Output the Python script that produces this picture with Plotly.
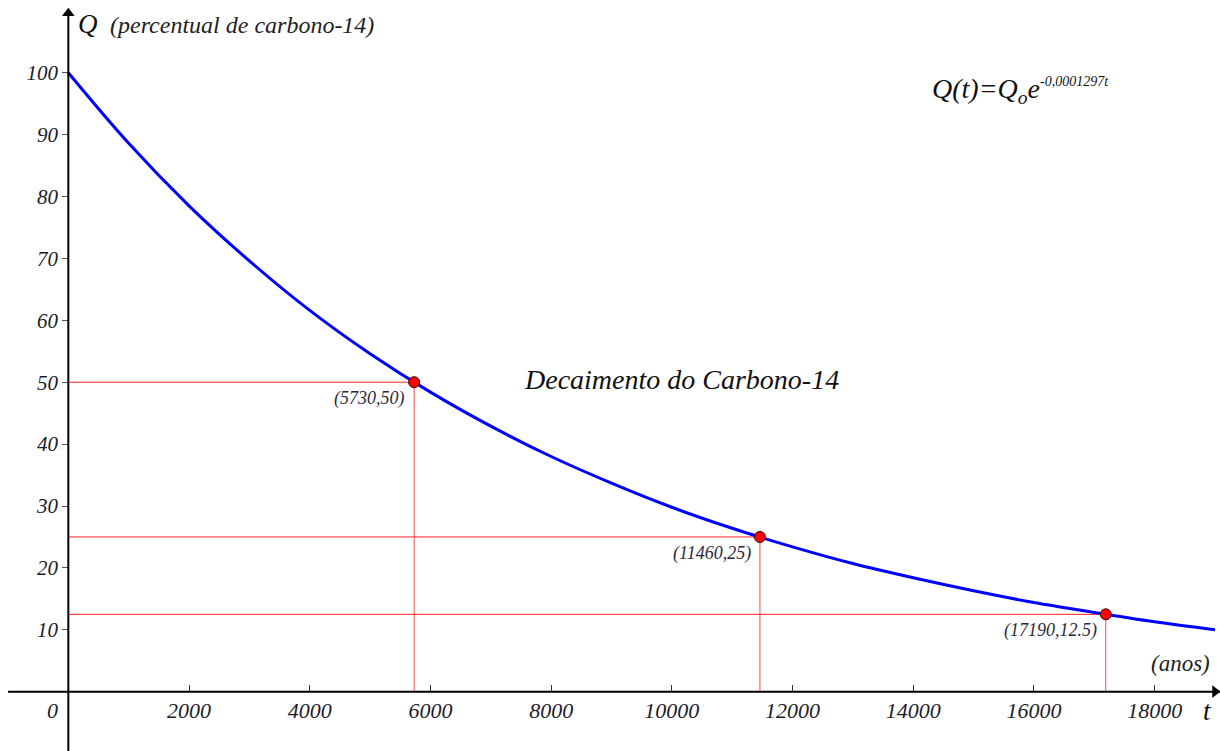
import plotly.graph_objects as go

# Data
t_years = [0, 1000, 2000, 3000, 4000, 5000, 6000, 7000, 8000, 9000, 10000,
           11000, 12000, 13000, 14000, 15000, 16000, 17000, 18000, 19000]
q_percent = [100, 88.6, 78.5, 69.6, 61.6, 54.6, 48.4, 42.9, 38.0, 33.7, 29.8,
             26.4, 23.4, 20.7, 18.4, 16.3, 14.4, 12.8, 11.3, 10.0]
half_life_t = [5730, 11460, 17190]
half_life_q = [50, 25, 12.5]
half_life_labels = ["(5730,50)", "(11460,25)", "(17190,12.5)"]
x_ticks = [2000, 4000, 6000, 8000, 10000, 12000, 14000, 16000, 18000]
x_tick_text = ["2000", "4000", "6000", "8000", "10000", "12000", "14000", "16000", "18000"]
y_ticks = [10, 20, 30, 40, 50, 60, 70, 80, 90, 100]

X_RANGE = [-1132, 19083]
Y_RANGE = [-9.58, 111.75]
FONT = "Liberation Serif"
TXT = "#1c1c2a"

fig = go.Figure()

# axis lines
shapes = [
    dict(type="line", xref="x", yref="y", x0=-999, x1=X_RANGE[1], y0=0, y1=0,
         line=dict(color="#000", width=2)),
    dict(type="line", xref="x", yref="y", x0=0, x1=0, y0=Y_RANGE[0], y1=109.5,
         line=dict(color="#000", width=2)),
]

# guide lines to the axes
for tx, qy in zip(half_life_t, half_life_q):
    fig.add_trace(go.Scatter(x=[0, tx], y=[qy, qy], mode="lines",
                             line=dict(color="#ff2020", width=1),
                             hoverinfo="skip", showlegend=False))
    fig.add_trace(go.Scatter(x=[tx, tx], y=[qy, 0], mode="lines",
                             line=dict(color="#ff4a4a", width=1),
                             hoverinfo="skip", showlegend=False))

fig.add_trace(go.Scatter(x=t_years, y=q_percent, mode="lines",
                         line=dict(color="#0000ff", width=3, shape="spline"),
                         showlegend=False))

fig.add_trace(go.Scatter(x=half_life_t, y=half_life_q, mode="markers",
                         marker=dict(color="#ff0000", size=11,
                                     line=dict(color="#400000", width=1)),
                         showlegend=False))

# arrowheads at the axis ends
fig.add_trace(go.Scatter(x=[0], y=[109.6], mode="markers", hoverinfo="skip",
                         marker=dict(symbol="triangle-up", size=11, color="#000"),
                         showlegend=False))
fig.add_trace(go.Scatter(x=[19000], y=[0], mode="markers", hoverinfo="skip",
                         marker=dict(symbol="triangle-right", size=11, color="#000"),
                         showlegend=False))

ann = []

def txt(x, y, s, size, xanchor="center", yanchor="middle", color=TXT):
    ann.append(dict(x=x, y=y, xref="x", yref="y", text=s, showarrow=False,
                    xanchor=xanchor, yanchor=yanchor,
                    font=dict(family=FONT, size=size, color=color, style="italic")))

txt(330, 107.9, "Q", 27, color="#111")
txt(658, 107.7, "(percentual de carbono-14)", 24, xanchor="left", color="#222")
txt(14280, 97.2,
    "Q(t)=Q<sub>o</sub>e<sup><span style='font-size:14px'>-0,0001297t</span></sup>",
    28, xanchor="left", color="#111")
txt(7516, 50.4, "Decaimento do Carbono-14", 28, xanchor="left", color="#111")
for tx, qy, lab in zip(half_life_t, half_life_q, half_life_labels):
    txt(tx - 110, qy - 0.6, lab, 18, xanchor="right", yanchor="top", color="#2a2a3a")
txt(18950, 4.6, "(anos)", 23, xanchor="right", color="#222")
txt(18870, -3.1, "t", 27, color="#111")
txt(-270, -3.1, "0", 22, color="#222")

fig.update_layout(
    width=1220, height=751, autosize=False,
    margin=dict(l=0, r=0, t=0, b=0),
    plot_bgcolor="white", paper_bgcolor="white",
    annotations=ann, shapes=shapes,
    xaxis=dict(range=X_RANGE, tickvals=x_ticks, ticktext=x_tick_text,
               showgrid=False, zeroline=False,
               showline=False, ticks="inside", ticklen=7, tickwidth=1,
               tickcolor="#333", anchor="free",
               position=(0 - Y_RANGE[0]) / (Y_RANGE[1] - Y_RANGE[0]),
               ticklabelstandoff=3,
               tickfont=dict(family=FONT, size=22, color=TXT, style="italic")),
    yaxis=dict(range=Y_RANGE, tickvals=y_ticks, showgrid=False, zeroline=False,
               showline=False, ticks="outside", ticklen=6, tickwidth=1,
               tickcolor="#555", anchor="free",
               position=(0 - X_RANGE[0]) / (X_RANGE[1] - X_RANGE[0]),
               tickfont=dict(family=FONT, size=21, color=TXT, style="italic")),
)

fig.write_html("out.html", config={"displayModeBar": False},
               post_script="document.body.style.margin='0';")
